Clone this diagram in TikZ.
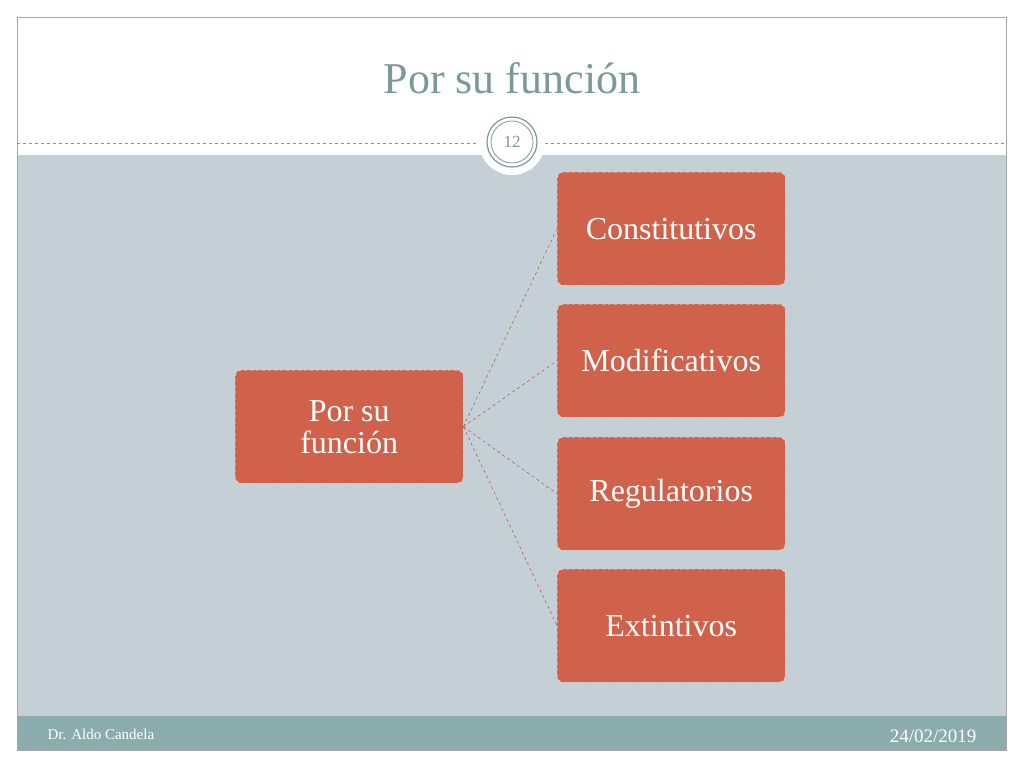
\documentclass[tikz,border=0pt]{standalone}
\usepackage{fontspec}
\setmainfont{Liberation Serif}
\begin{document}
\begin{tikzpicture}[x=1pt,y=-1pt,
  box/.style={draw=white!85!orange, dashed, fill=boxc, rounded corners=6pt, minimum width=228pt, minimum height=113pt, text=white, font=\fontsize{32}{34}\selectfont, align=center, anchor=north west},
  link/.style={draw=linkc, dashed, thin}]
\definecolor{boxc}{HTML}{D0614A}
\definecolor{grayc}{HTML}{C5D0D6}
\definecolor{footc}{HTML}{8AACAC}
\definecolor{titc}{HTML}{7A9999}
\definecolor{linkc}{HTML}{A8402E}
\useasboundingbox (0,0) rectangle (1024,768);
\fill[white] (0,0) rectangle (1024,768);
\fill[grayc] (17,155) rectangle (1006,716);
\fill[footc] (17,716) rectangle (1006,750);
\draw[gray!70] (17,17) rectangle (1006,750);
\draw[titc, dashed] (17,143) -- (1006,143);
\fill[white] (512,142) circle (33);
\draw[titc, line width=1.2pt] (512,142) circle (25);
\draw[titc, line width=0.8pt] (512,142) circle (21);
\node[text=titc, font=\fontsize{17}{17}\selectfont] (pg) at (512,142) {12};
\node[text=titc, font=\fontsize{44}{44}\selectfont] (title) at (512,78) {Por su función};
\node[text=white, font=\fontsize{15}{15}\selectfont, anchor=west] (au) at (44,734) {Dr. Aldo Candela};
\node[text=white, font=\fontsize{19}{19}\selectfont, anchor=east] (dt) at (980,736) {24/02/2019};
\node[box] (m) at (235,370) {Por su\\[-2pt]función};
\node[box] (a) at (557,172) {Constitutivos};
\node[box] (b) at (557,304) {Modificativos};
\node[box] (c) at (557,437) {Regulatorios};
\node[box] (d) at (557,569) {Extintivos};
\foreach \n in {a,b,c,d} \draw[link] (m.east) -- (\n.west);
\end{tikzpicture}
\end{document}
